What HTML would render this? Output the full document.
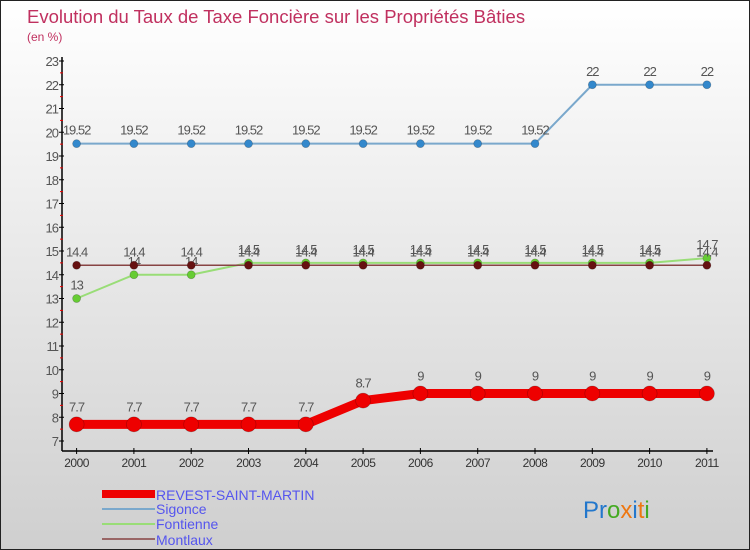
<!DOCTYPE html>
<html><head><meta charset="utf-8"><style>
body{margin:0}
#wrap{width:750px;height:550px;position:relative;overflow:hidden;box-sizing:border-box;border:1px solid #222;background:linear-gradient(#ffffff,#cfcfcf);font-family:"Liberation Sans",sans-serif}
</style></head><body>
<div id="wrap">
<svg id="chart" width="750" height="550" style="position:absolute;left:0;top:0">
<text x="26" y="22" font-size="18.5" fill="#c0305f">Evolution du Taux de Taxe Foncière sur les Propriétés Bâties</text>
<text x="26" y="40" font-size="12" fill="#c0305f">(en %)</text>
<g id="axes"></g><g id="series"></g>
<g>
<rect x="101" y="489" width="53" height="8" fill="#ee0000"/>
<text x="155" y="499" font-size="14" fill="#5555ee">REVEST-SAINT-MARTIN</text>
<line x1="101" y1="508" x2="154" y2="508" stroke="#7aa8cc" stroke-width="2"/>
<text x="155" y="513" font-size="14" fill="#5555ee">Sigonce</text>
<line x1="101" y1="523" x2="154" y2="523" stroke="#99dd77" stroke-width="2"/>
<text x="155" y="528" font-size="14" fill="#5555ee">Fontienne</text>
<line x1="101" y1="538" x2="154" y2="538" stroke="#996666" stroke-width="2"/>
<text x="155" y="544" font-size="14" fill="#5555ee">Montlaux</text>
</g>
<text x="582" y="517" font-size="24"><tspan fill="#2277cc">Pr</tspan><tspan fill="#44aa22">o</tspan><tspan fill="#ee7711">x</tspan><tspan fill="#2277cc">i</tspan><tspan fill="#ee7711">t</tspan><tspan fill="#44aa22">i</tspan></text>
</svg>
</div>
<script>
const years=[2000,2001,2002,2003,2004,2005,2006,2007,2008,2009,2010,2011];
const revest=[7.7,7.7,7.7,7.7,7.7,8.7,9,9,9,9,9,9];
const sigonce=[19.52,19.52,19.52,19.52,19.52,19.52,19.52,19.52,19.52,22,22,22];
const fontienne=[13,14,14,14.5,14.5,14.5,14.5,14.5,14.5,14.5,14.5,14.7];
const montlaux=[14.4,14.4,14.4,14.4,14.4,14.4,14.4,14.4,14.4,14.4,14.4,14.4];
const yTicks=[7,8,9,10,11,12,13,14,15,16,17,18,19,20,21,22,23];
const NS="http://www.w3.org/2000/svg";
const xS=i=>75.6+i*57.3;
const yS=v=>440-(v-7)*23.75;
function mk(tag,attrs,parent,text){const e=document.createElementNS(NS,tag);for(const k in attrs)e.setAttribute(k,attrs[k]);if(text!==undefined)e.textContent=text;parent.appendChild(e);return e;}
const ax=document.getElementById('axes');
let a=mk('line',{x1:61,y1:56,x2:61,y2:450,stroke:'#000','stroke-width':1.5},ax);


a=mk('line',{x1:61,y1:450,x2:712,y2:450,stroke:'#000','stroke-width':1.5},ax);


yTicks.forEach(v=>{
 mk('line',{x1:58,y1:yS(v),x2:63,y2:yS(v),stroke:'#000'},ax);
 if(v<23) mk('line',{x1:59,y1:yS(v+0.5),x2:62,y2:yS(v+0.5),stroke:'#e00'},ax);
 const t=mk('text',{x:57,y:yS(v)+5,'font-size':13,fill:'#555','text-anchor':'end','letter-spacing':'-1'},ax,String(v));
 
 
});
years.forEach((y,i)=>{
 mk('line',{x1:xS(i),y1:447,x2:xS(i),y2:453,stroke:'#000'},ax);
 const t=mk('text',{x:xS(i),y:466,'font-size':12,fill:'#333','text-anchor':'middle','letter-spacing':'-0.5'},ax,String(y));
 
 
});
const sg=document.getElementById('series');
function draw(name,vals,color,w,r,dot,dy){
 const g=mk('g',{},sg);
 
 
 mk('polyline',{points:vals.map((v,i)=>xS(i)+','+yS(v)).join(' '),fill:'none',stroke:color,'stroke-width':w,'stroke-linejoin':'round'},g);
 vals.forEach((v,i)=>{
  const c=mk('circle',{cx:xS(i),cy:yS(v),r:r,fill:dot,stroke:'rgba(0,0,0,0.25)','stroke-width':0.7},g);
  
  
  const t=mk('text',{x:xS(i),y:yS(v)-dy,'font-size':13,fill:'#555','text-anchor':'middle','letter-spacing':'-1'},g,String(v));
  
  
 });
}
draw('sigonce',sigonce,'#7aa8cc',2,4,'#3388cc',9);
draw('fontienne',fontienne,'#99dd77',2,4,'#66cc33',9);
draw('montlaux',montlaux,'#884444',1.5,4,'#661111',9);
draw('revest',revest,'#ee0000',9,7.5,'#ee0000',13);
</script>
</body></html>
